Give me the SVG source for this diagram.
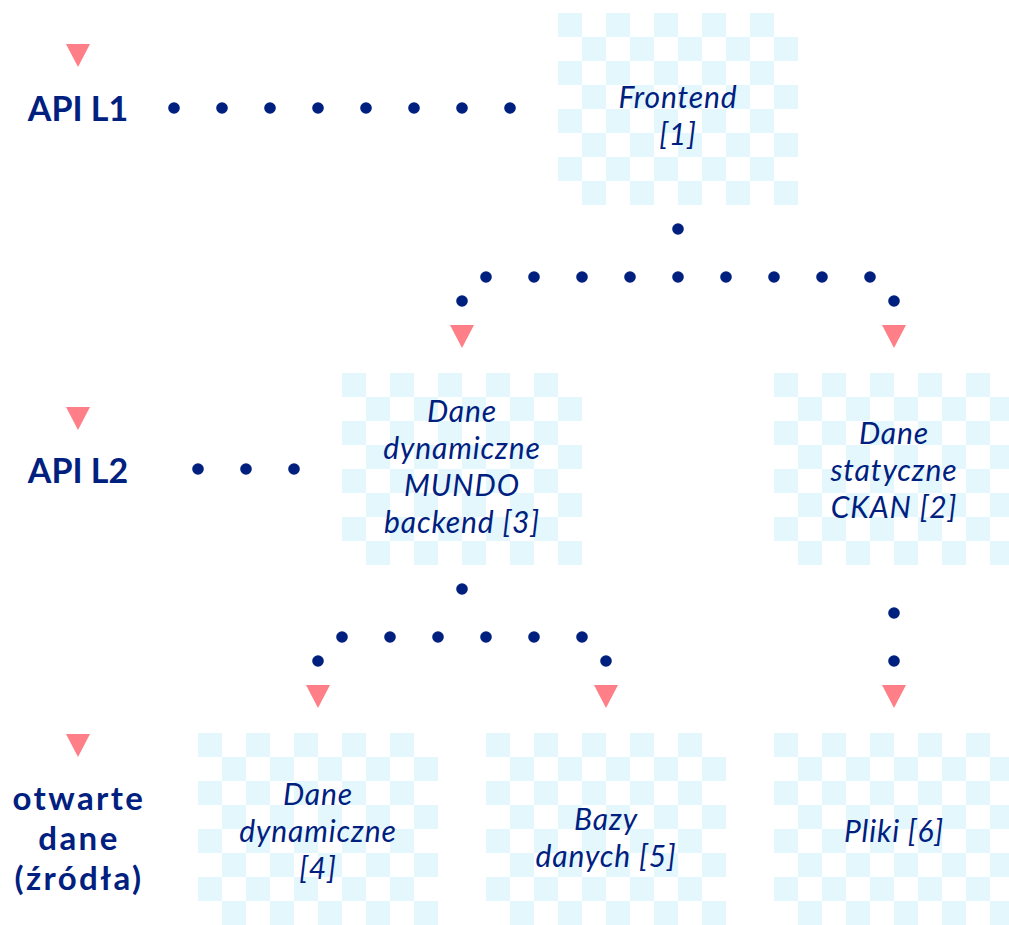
<svg xmlns="http://www.w3.org/2000/svg" width="1009" height="925" viewBox="0 0 1009 925">
<style>
.lvl{font-family:Lato,"Noto Sans","DejaVu Sans",sans-serif;font-weight:700;font-size:34px;fill:#00207f;text-anchor:middle}
.lvs{font-size:33px;letter-spacing:2.4px}
.nt{font-family:Lato,"Noto Sans","DejaVu Sans",sans-serif;font-style:italic;font-size:30px;letter-spacing:0.9px;fill:#00207f;text-anchor:middle}
.dot{fill:#00207f}
.tri{fill:#ff7f88}
.box{fill:url(#chk)}
</style>
<defs>
<pattern id="chk" x="0" y="0" width="48" height="48" patternUnits="userSpaceOnUse">
<rect x="0" y="0" width="24" height="24" fill="#e3f7fd"/>
<rect x="24" y="24" width="24" height="24" fill="#e3f7fd"/>
</pattern>
<polygon id="arr" class="tri" points="-12,0 12,0 0,23"/>
<circle id="d" class="dot" r="5.8"/>
</defs>
<rect width="1009" height="925" fill="#ffffff"/>

<g id="level-api-l1">
<use href="#arr" x="78" y="44"/>
<text class="lvl" x="78" y="121">API L1</text>
</g>
<g id="level-api-l2">
<use href="#arr" x="78" y="407"/>
<text class="lvl" x="78" y="483">API L2</text>
</g>
<g id="level-open-data">
<use href="#arr" x="78" y="734"/>
<text class="lvl lvs" x="79" y="810">otwarte</text>
<text class="lvl lvs" x="79" y="850">dane</text>
<text class="lvl lvs" x="79" y="890">(źródła)</text>
</g>

<g id="node-frontend">
<g transform="translate(558 13)"><rect class="box" width="240" height="192"/></g>
<text class="nt" x="678" y="108">Frontend</text>
<text class="nt" x="678" y="145">[1]</text>
</g>

<g id="node-mundo">
<g transform="translate(342 373)"><rect class="box" width="240" height="192"/></g>
<text class="nt" x="462" y="422">Dane</text>
<text class="nt" x="462" y="459">dynamiczne</text>
<text class="nt" x="462" y="496">MUNDO</text>
<text class="nt" x="462" y="533">backend [3]</text>
</g>

<g id="node-ckan">
<g transform="translate(774 373)"><rect class="box" width="240" height="192"/></g>
<text class="nt" x="894" y="444">Dane</text>
<text class="nt" x="894" y="481">statyczne</text>
<text class="nt" x="894" y="518">CKAN [2]</text>
</g>

<g id="node-dynamic4">
<g transform="translate(198 733)"><rect class="box" width="240" height="192"/></g>
<text class="nt" x="318" y="805">Dane</text>
<text class="nt" x="318" y="842">dynamiczne</text>
<text class="nt" x="318" y="879">[4]</text>
</g>

<g id="node-db5">
<g transform="translate(486 733)"><rect class="box" width="240" height="192"/></g>
<text class="nt" x="606" y="830">Bazy</text>
<text class="nt" x="606" y="867">danych [5]</text>
</g>

<g id="node-files6">
<g transform="translate(774 733)"><rect class="box" width="240" height="192"/></g>
<text class="nt" x="894" y="842">Pliki [6]</text>
</g>

<g id="connectors">
<use href="#d" x="174" y="108"/><use href="#d" x="222" y="108"/><use href="#d" x="270" y="108"/><use href="#d" x="318" y="108"/>
<use href="#d" x="366" y="108"/><use href="#d" x="414" y="108"/><use href="#d" x="462" y="108"/><use href="#d" x="510" y="108"/>
<use href="#d" x="198" y="469"/><use href="#d" x="246" y="469"/><use href="#d" x="294" y="469"/>
<use href="#d" x="678" y="229"/>
<use href="#d" x="486" y="277"/><use href="#d" x="534" y="277"/><use href="#d" x="582" y="277"/><use href="#d" x="630" y="277"/>
<use href="#d" x="678" y="277"/><use href="#d" x="726" y="277"/><use href="#d" x="774" y="277"/><use href="#d" x="822" y="277"/><use href="#d" x="870" y="277"/>
<use href="#d" x="462" y="301"/><use href="#d" x="894" y="301"/>
<use href="#arr" x="462" y="325"/><use href="#arr" x="894" y="325"/>
<use href="#d" x="462" y="589"/>
<use href="#d" x="342" y="637"/><use href="#d" x="390" y="637"/><use href="#d" x="438" y="637"/>
<use href="#d" x="486" y="637"/><use href="#d" x="534" y="637"/><use href="#d" x="582" y="637"/>
<use href="#d" x="318" y="661"/><use href="#d" x="606" y="661"/>
<use href="#arr" x="318" y="685"/><use href="#arr" x="606" y="685"/>
<use href="#d" x="894" y="613"/><use href="#d" x="894" y="661"/>
<use href="#arr" x="894" y="685"/>
</g>
</svg>
